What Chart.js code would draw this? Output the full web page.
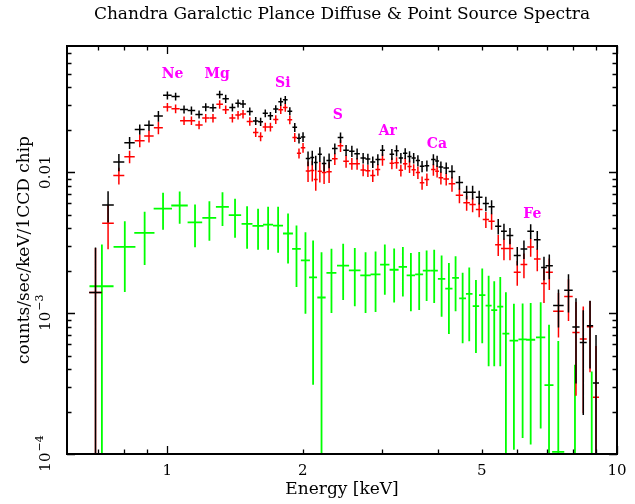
<!DOCTYPE html>
<html>
<head>
<meta charset="utf-8">
<script src="https://cdn.jsdelivr.net/npm/chart.js@4.4.0/dist/chart.umd.min.js"></script>
<style>
html, body { margin: 0; padding: 0; background: #fff; }
</style>
</head>
<body>
<canvas id="spec" width="635" height="504"></canvas>
<script>
// bin centres (keV) and half widths, shared by the black and red spectra
const energy = [0.692, 0.738, 0.780, 0.824, 0.868, 0.910, 0.955, 1.000, 1.043, 1.089,
  1.131, 1.176, 1.217, 1.263, 1.307, 1.348, 1.395, 1.436, 1.473, 1.525,
  1.572, 1.612, 1.651, 1.695, 1.742, 1.787, 1.829, 1.872, 1.920, 1.962,
  2.003, 2.055, 2.100, 2.138, 2.183, 2.231, 2.289, 2.357, 2.427, 2.497,
  2.572, 2.642, 2.725, 2.792, 2.863, 2.938, 3.009, 3.157, 3.234, 3.306,
  3.380, 3.456, 3.530, 3.607, 3.685, 3.777, 3.905, 3.980, 4.058, 4.170,
  4.295, 4.462, 4.630, 4.774, 4.937, 5.109, 5.261, 5.443, 5.605, 5.780,
  6.000, 6.209, 6.427, 6.648, 6.880, 7.070, 7.410, 7.800, 8.106, 8.414,
  8.710, 8.981];
const energyErr = [0.022, 0.022, 0.022, 0.022, 0.022, 0.022, 0.022, 0.022, 0.022, 0.022,
  0.022, 0.022, 0.022, 0.022, 0.022, 0.022, 0.022, 0.020, 0.022, 0.024,
  0.022, 0.020, 0.022, 0.023, 0.023, 0.022, 0.022, 0.023, 0.023, 0.021,
  0.023, 0.024, 0.021, 0.021, 0.023, 0.026, 0.031, 0.034, 0.035, 0.036,
  0.036, 0.038, 0.037, 0.035, 0.037, 0.036, 0.037, 0.037, 0.037, 0.037,
  0.038, 0.037, 0.038, 0.039, 0.043, 0.045, 0.045, 0.038, 0.048, 0.060,
  0.073, 0.084, 0.078, 0.077, 0.084, 0.081, 0.084, 0.086, 0.084, 0.100,
  0.107, 0.107, 0.110, 0.113, 0.100, 0.130, 0.200, 0.170, 0.150, 0.150,
  0.140, 0.140];

// total spectrum (black)
const blackCounts = [1.40e-3, 5.86e-3, 0.0118, 0.0162, 0.0201, 0.0215, 0.0250, 0.0351, 0.0344, 0.0279,
  0.0274, 0.0257, 0.0290, 0.0287, 0.0356, 0.0332, 0.0288, 0.0308, 0.0305, 0.0270,
  0.0231, 0.0228, 0.0262, 0.0251, 0.0281, 0.0316, 0.0326, 0.0271, 0.0208, 0.0174,
  0.0178, 0.0125, 0.0127, 0.0117, 0.0134, 0.0115, 0.0121, 0.0147, 0.0176, 0.0143,
  0.0141, 0.0135, 0.0126, 0.0124, 0.0118, 0.0123, 0.0143, 0.0134, 0.0142, 0.0126,
  0.0136, 0.0129, 0.0126, 0.0121, 0.0110, 0.0111, 0.0123, 0.0120, 0.0109, 0.0107,
  0.0101, 0.00845, 0.00721, 0.00721, 0.00664, 0.00599, 0.00568, 0.00413, 0.00381, 0.00355,
  0.00256, 0.00285, 0.00381, 0.00332, 0.00211, 0.00217, 0.00113, 0.00145, 0.000796, 0.000619,
  0.000814, 0.000319];
const blackErr = [1.52e-3, 1.47e-3, 1.65e-3, 1.6e-3, 1.7e-3, 1.8e-3, 2.2e-3, 2.3e-3, 2.2e-3, 1.8e-3,
  1.8e-3, 1.7e-3, 1.9e-3, 1.9e-3, 2.3e-3, 2.2e-3, 1.9e-3, 2.0e-3, 2.0e-3, 1.8e-3,
  1.5e-3, 1.5e-3, 1.7e-3, 1.6e-3, 1.8e-3, 2.1e-3, 2.1e-3, 1.8e-3, 1.5e-3, 1.4e-3,
  1.4e-3, 1.5e-3, 1.5e-3, 1.4e-3, 1.6e-3, 1.4e-3, 1.45e-3, 1.3e-3, 1.5e-3, 1.3e-3,
  1.3e-3, 1.2e-3, 1.1e-3, 1.1e-3, 1.1e-3, 1.1e-3, 1.3e-3, 1.2e-3, 1.3e-3, 1.1e-3,
  1.2e-3, 1.2e-3, 1.1e-3, 1.1e-3, 1.0e-3, 1.0e-3, 1.1e-3, 1.1e-3, 1.0e-3, 1.0e-3,
  1.1e-3, 0.95e-3, 0.8e-3, 0.8e-3, 0.75e-3, 0.7e-3, 0.65e-3, 0.52e-3, 0.5e-3, 0.47e-3,
  0.38e-3, 0.43e-3, 0.46e-3, 0.5e-3, 0.4e-3, 0.43e-3, 0.34e-3, 0.44e-3, 0.48e-3, 0.43e-3,
  0.41e-3, 0.38e-3];

// point source spectrum (red)
const redCounts = [1.40e-3, 4.34e-3, 9.47e-3, 0.01289, 0.01672, 0.01803, 0.02068, 0.0290, 0.02822, 0.02319,
  0.02319, 0.02165, 0.0242, 0.0242, 0.03029, 0.02777, 0.0242, 0.02541, 0.02583, 0.02293,
  0.01915, 0.01788, 0.02096, 0.02096, 0.02369, 0.02777, 0.02883, 0.02357, 0.01765, 0.01362,
  0.01491, 0.0102, 0.01028, 0.00887, 0.01016, 0.00995, 0.01008, 0.01245, 0.01543, 0.01197,
  0.01149, 0.01149, 0.01036, 0.01023, 0.00947, 0.01045, 0.01231, 0.01157, 0.01166, 0.01031,
  0.01149, 0.01098, 0.0104, 0.00995, 0.00841, 0.00887, 0.01045, 0.01016, 0.00912, 0.00893,
  0.00827, 0.00685, 0.00606, 0.00589, 0.00543, 0.00461, 0.00448, 0.00306, 0.00287, 0.00287,
  0.00195, 0.00221, 0.00295, 0.00242, 0.00162, 0.00195, 0.00103, 0.00131, 0.000729, 0.000655,
  0.0008, 0.000253];
const redErr = [1.5e-3, 1.5e-3, 1.3e-3, 1.3e-3, 1.7e-3, 1.8e-3, 2.1e-3, 2.0e-3, 2.0e-3, 1.6e-3,
  1.6e-3, 1.5e-3, 1.7e-3, 1.7e-3, 2.1e-3, 1.9e-3, 1.7e-3, 1.8e-3, 1.8e-3, 1.6e-3,
  1.4e-3, 1.3e-3, 1.5e-3, 1.5e-3, 1.7e-3, 1.9e-3, 2.0e-3, 1.7e-3, 1.3e-3, 1.1e-3,
  1.2e-3, 1.7e-3, 1.7e-3, 1.5e-3, 1.7e-3, 1.7e-3, 1.7e-3, 1.2e-3, 1.5e-3, 1.2e-3,
  1.1e-3, 1.1e-3, 1.0e-3, 1.0e-3, 0.95e-3, 1.0e-3, 1.2e-3, 1.1e-3, 1.1e-3, 1.0e-3,
  1.1e-3, 1.1e-3, 1.0e-3, 1.0e-3, 0.9e-3, 0.9e-3, 1.0e-3, 1.0e-3, 0.95e-3, 0.9e-3,
  1.0e-3, 0.82e-3, 0.73e-3, 0.7e-3, 0.65e-3, 0.6e-3, 0.58e-3, 0.52e-3, 0.5e-3, 0.5e-3,
  0.39e-3, 0.44e-3, 0.44e-3, 0.44e-3, 0.44e-3, 0.49e-3, 0.36e-3, 0.43e-3, 0.47e-3, 0.46e-3,
  0.42e-3, 0.33e-3];

// diffuse spectrum (green), coarser bins
const greenEnergy = [0.715, 0.804, 0.890, 0.978, 1.065, 1.152, 1.240, 1.326, 1.414, 1.504,
  1.591, 1.675, 1.763, 1.855, 1.937, 2.028, 2.109, 2.202, 2.317, 2.460,
  2.611, 2.759, 2.904, 3.045, 3.194, 3.340, 3.480, 3.631, 3.772, 3.921,
  4.073, 4.228, 4.375, 4.536, 4.692, 4.856, 5.015, 5.182, 5.333, 5.500,
  5.661, 5.898, 6.167, 6.427, 6.765, 7.060, 7.403, 8.063, 8.786];
const greenEnergyErr = [0.044, 0.045, 0.046, 0.046, 0.045, 0.043, 0.044, 0.044, 0.045, 0.042,
  0.045, 0.043, 0.045, 0.047, 0.043, 0.047, 0.043, 0.047, 0.059, 0.076,
  0.078, 0.074, 0.074, 0.073, 0.074, 0.072, 0.075, 0.074, 0.073, 0.074,
  0.077, 0.078, 0.076, 0.079, 0.079, 0.080, 0.082, 0.080, 0.082, 0.085,
  0.100, 0.130, 0.130, 0.150, 0.160, 0.163, 0.230, 0.330, 0.360];
const greenCounts = [1.55e-3, 2.95e-3, 3.71e-3, 5.52e-3, 5.80e-3, 4.41e-3, 4.74e-3, 5.68e-3, 4.95e-3, 4.30e-3,
  4.16e-3, 4.25e-3, 4.18e-3, 3.67e-3, 2.86e-3, 2.37e-3, 1.79e-3, 1.29e-3, 1.93e-3, 2.17e-3,
  2.01e-3, 1.85e-3, 1.88e-3, 2.21e-3, 2.03e-3, 2.13e-3, 1.85e-3, 1.88e-3, 2.00e-3, 2.00e-3,
  1.75e-3, 1.49e-3, 1.78e-3, 1.27e-3, 1.37e-3, 1.12e-3, 1.34e-3, 1.13e-3, 1.05e-3, 1.11e-3,
  0.714e-3, 0.637e-3, 0.650e-3, 0.647e-3, 0.672e-3, 0.308e-3, 0.1035e-3, 0.04e-3, 0.04e-3];
const greenErr = [1.52e-3, 1.54e-3, 1.52e-3, 1.62e-3, 1.49e-3, 1.48e-3, 1.48e-3, 1.53e-3, 1.52e-3, 1.44e-3,
  1.34e-3, 1.43e-3, 1.50e-3, 1.42e-3, 1.33e-3, 1.38e-3, 1.48e-3, 1.41e-3, 0.93e-3, 0.93e-3,
  0.89e-3, 0.85e-3, 0.86e-3, 0.86e-3, 0.84e-3, 0.82e-3, 0.82e-3, 0.83e-3, 0.78e-3, 0.82e-3,
  0.81e-3, 0.78e-3, 0.75e-3, 0.66e-3, 0.74e-3, 0.60e-3, 0.73e-3, 0.71e-3, 0.63e-3, 0.69e-3,
  0.69e-3, 0.53e-3, 0.52e-3, 0.53e-3, 0.52e-3, 0.52e-3, 0.53e-3, 0.39e-3, 0.345e-3];

// emission line labels
const lineNames = ['Ne', 'Mg', 'Si', 'S', 'Ar', 'Ca', 'Fe'];
const lineEnergy = [1.027, 1.29, 1.806, 2.393, 3.093, 3.976, 6.48];
const lineCounts = [0.0495, 0.0495, 0.0427, 0.0253, 0.0195, 0.0157, 0.0050];

// axes
const xLabelTicks = [1, 2, 5, 10];
const xMajorTicks = [1, 10];
const xMinorTicks = [0.7, 0.8, 0.9, 2, 3, 4, 5, 6, 7, 8, 9];
const yLabelTicks = [1e-4, 1e-3, 1e-2];
const yLabelText = [['10', '\u22124'], ['10', '\u22123'], ['0.01', '']];
const yMajorTicks = [1e-4, 1e-3, 1e-2];
const yMinorTicks = [];
[1e-4, 1e-3, 1e-2].forEach(d => { for (let k = 2; k <= 9; k++) if (d * k < 0.0786) yMinorTicks.push(d * k); });

const FONT = "'DejaVu Serif', serif";

// each measurement becomes a horizontal bar and a vertical bar, split by gaps
function crosses(xs, dxs, ys, dys) {
  const pts = [];
  for (let i = 0; i < xs.length; i++) {
    pts.push({x: xs[i] - dxs[i], y: ys[i]}, {x: xs[i] + dxs[i], y: ys[i]}, {x: xs[i], y: null});
    const lo = ys[i] - dys[i];
    pts.push({x: xs[i], y: lo > 0 ? lo : 1e-6}, {x: xs[i], y: ys[i] + dys[i]}, {x: xs[i], y: null});
  }
  return pts;
}

function series(data, color, width) {
  return {
    data: data,
    showLine: true,
    spanGaps: false,
    borderColor: color,
    backgroundColor: color,
    borderWidth: width,
    pointRadius: 0,
    pointHoverRadius: 0
  };
}

const frameAndTicks = {
  id: 'frameAndTicks',
  afterDraw(chart) {
    const {ctx, chartArea: a} = chart;
    const x = chart.scales.x, y = chart.scales.y;
    ctx.save();
    ctx.strokeStyle = '#000';
    ctx.lineWidth = 1.3;
    ctx.beginPath();
    const xt = (v, len) => {
      const px = Math.round(x.getPixelForValue(v)) + 0.5;
      ctx.moveTo(px, a.bottom); ctx.lineTo(px, a.bottom - len);
      ctx.moveTo(px, a.top); ctx.lineTo(px, a.top + len);
    };
    const yt = (v, len) => {
      const py = Math.round(y.getPixelForValue(v)) + 0.5;
      ctx.moveTo(a.left, py); ctx.lineTo(a.left + len, py);
      ctx.moveTo(a.right, py); ctx.lineTo(a.right - len, py);
    };
    xMajorTicks.forEach(v => xt(v, 8));
    xMinorTicks.forEach(v => xt(v, 4.5));
    yMajorTicks.forEach(v => yt(v, 8));
    yMinorTicks.forEach(v => yt(v, 4.5));
    ctx.stroke();
    ctx.lineWidth = 2;
    ctx.strokeRect(a.left, a.top, a.right - a.left, a.bottom - a.top);

    // rotated y tick labels
    ctx.fillStyle = '#000';
    ctx.textBaseline = 'alphabetic';
    ctx.textAlign = 'left';
    yLabelTicks.forEach((v, i) => {
      const py = y.getPixelForValue(v);
      const [base, exp] = yLabelText[i];
      ctx.font = '15px ' + FONT;
      const wb = ctx.measureText(base).width;
      ctx.font = '11px ' + FONT;
      const we = exp ? ctx.measureText(exp).width : 0;
      ctx.save();
      ctx.translate(50, py);
      ctx.rotate(-Math.PI / 2);
      const start = -(wb + we) / 2;
      ctx.font = '15px ' + FONT;
      ctx.fillText(base, start, 0);
      if (exp) {
        ctx.font = '11px ' + FONT;
        ctx.fillText(exp, start + wb + 1, -7);
      }
      ctx.restore();
    });
    ctx.restore();
  },
  afterDatasetsDraw(chart) {
    const {ctx} = chart;
    const x = chart.scales.x, y = chart.scales.y;
    ctx.save();
    ctx.fillStyle = '#ff00ff';
    ctx.font = 'bold 14px ' + FONT;
    ctx.textAlign = 'center';
    ctx.textBaseline = 'middle';
    lineNames.forEach((n, i) => {
      ctx.fillText(n, x.getPixelForValue(lineEnergy[i]), y.getPixelForValue(lineCounts[i]));
    });
    ctx.restore();
  }
};

Chart.defaults.font.family = FONT;
Chart.defaults.color = '#000';

new Chart(document.getElementById('spec'), {
  type: 'scatter',
  data: {
    datasets: [
      series(crosses(energy, energyErr, blackCounts, blackErr), '#000000', 1.5),
      series(crosses(energy, energyErr, redCounts, redErr), '#ff0000', 1.5),
      series(crosses(greenEnergy, greenEnergyErr, greenCounts, greenErr), '#00ff00', 1.8)
    ]
  },
  options: {
    responsive: false,
    animation: false,
    devicePixelRatio: 1,
    layout: { padding: { left: 0, right: 18, top: 0, bottom: 0 } },
    plugins: {
      legend: { display: false },
      tooltip: { enabled: false },
      title: {
        display: true,
        text: 'Chandra Garalctic Plance Diffuse & Point Source Spectra',
        fullSize: false,
        font: { size: 17, weight: 'normal', family: FONT, lineHeight: 1.2 },
        color: '#000',
        padding: { top: 4, bottom: 21.6 }
      }
    },
    scales: {
      x: {
        type: 'logarithmic',
        min: 0.598,
        max: 10,
        grid: { display: false, drawTicks: false },
        border: { display: false },
        afterBuildTicks: s => { s.ticks = xLabelTicks.map(v => ({value: v})); },
        afterFit: s => { s.height = 50; },
        ticks: {
          autoSkip: false,
          maxRotation: 0,
          padding: 8,
          font: { size: 15, family: FONT },
          callback: v => String(v)
        },
        title: {
          display: true,
          text: 'Energy [keV]',
          font: { size: 17, family: FONT, lineHeight: 1.2 },
          padding: { top: 0, bottom: 4 }
        }
      },
      y: {
        type: 'logarithmic',
        min: 1e-4,
        max: 0.0786,
        grid: { display: false, drawTicks: false },
        border: { display: false },
        afterFit: s => { s.width = 67; },
        ticks: { display: false },
        title: {
          display: true,
          text: 'counts/sec/keV/1CCD chip',
          font: { size: 17, family: FONT, lineHeight: 1.2 },
          padding: { top: 14, bottom: 0 }
        }
      }
    }
  },
  plugins: [frameAndTicks]
});
</script>
</body>
</html>
